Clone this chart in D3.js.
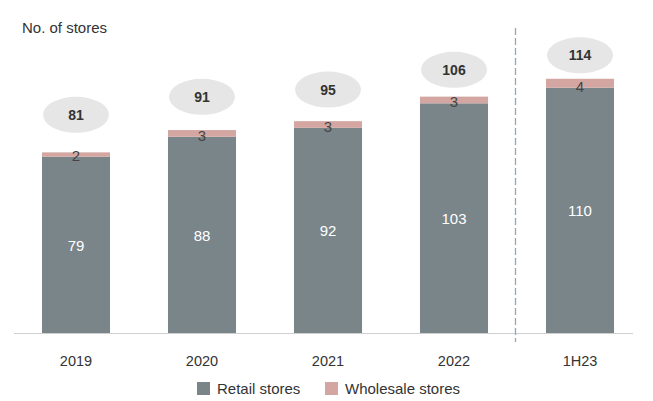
<!DOCTYPE html>
<html>
<head>
<meta charset="utf-8">
<script src="https://cdn.jsdelivr.net/npm/d3@7"></script>
<style>
  body { margin: 0; background: #fff; }
  text { font-family: "Liberation Sans", Arial, sans-serif; }
</style>
</head>
<body>
<div id="chart"></div>
<script>
// data
var periods = ["2019", "2020", "2021", "2022", "1H23"];
var retail = [79, 88, 92, 103, 110];
var wholesale = [2, 3, 3, 3, 4];
var totals = [81, 91, 95, 106, 114];

var width = 653, height = 401;
var baseY = 333;

var svg = d3.select("#chart").append("svg")
    .attr("width", width)
    .attr("height", height);

// x scale
var x = d3.scaleBand()
    .domain(periods)
    .range([13, 643])
    .paddingInner(0.46)
    .paddingOuter(0.23);

// y scale
var y = d3.scaleLinear()
    .domain([0, 120])
    .range([baseY, baseY - 120 * 2.23]);

// the total bubbles sit closer to the taller bars
var bubbleGap = d3.scaleLinear()
    .domain([80, 115])
    .range([38, 23]);

var rows = periods.map(function (p, i) {
    return { p: p, r: retail[i], w: wholesale[i], t: totals[i] };
});

// title
svg.append("text")
    .attr("x", 22)
    .attr("y", 33)
    .attr("font-size", 15)
    .attr("fill", "#333")
    .text("No. of stores");

// baseline
svg.append("line")
    .attr("x1", 14).attr("x2", 633)
    .attr("y1", baseY + 0.5).attr("y2", baseY + 0.5)
    .attr("stroke", "#d0d0d0");

// dashed separator
svg.append("line")
    .attr("x1", 515.5).attr("x2", 515.5)
    .attr("y1", 28).attr("y2", 342)
    .attr("stroke", "#8fa9b4")
    .attr("stroke-width", 1.3)
    .attr("stroke-dasharray", "7,3");

// retail bars
svg.selectAll(".retail")
    .data(rows)
    .enter()
    .append("rect")
    .attr("x", d => x(d.p))
    .attr("y", d => y(d.r))
    .attr("width", x.bandwidth())
    .attr("height", d => baseY - y(d.r))
    .attr("fill", "#7a8589");

// wholesale bars
svg.selectAll(".wholesale")
    .data(rows)
    .enter()
    .append("rect")
    .attr("x", d => x(d.p))
    .attr("y", d => y(d.r + d.w))
    .attr("width", x.bandwidth())
    .attr("height", d => y(d.r) - y(d.r + d.w))
    .attr("fill", "#d3a6a1");

// retail labels
svg.selectAll(".rlab")
    .data(rows)
    .enter()
    .append("text")
    .attr("x", d => x(d.p) + x.bandwidth() / 2)
    .attr("y", d => (y(d.r) + baseY) / 2 + 6)
    .attr("text-anchor", "middle")
    .attr("font-size", 15)
    .attr("fill", "#fff")
    .text(d => d.r);

// wholesale labels
svg.selectAll(".wlab")
    .data(rows)
    .enter()
    .append("text")
    .attr("x", d => x(d.p) + x.bandwidth() / 2)
    .attr("y", d => y(d.r) + 4)
    .attr("text-anchor", "middle")
    .attr("font-size", 15)
    .attr("fill", "#444")
    .text(d => d.w);

// total ellipses
svg.selectAll(".bubble")
    .data(rows)
    .enter()
    .append("ellipse")
    .attr("cx", d => x(d.p) + x.bandwidth() / 2)
    .attr("cy", d => y(d.t) - bubbleGap(d.t))
    .attr("rx", 33)
    .attr("ry", 18)
    .attr("fill", "#e6e6e6");

svg.selectAll(".tlab")
    .data(rows)
    .enter()
    .append("text")
    .attr("x", d => x(d.p) + x.bandwidth() / 2)
    .attr("y", d => y(d.t) - bubbleGap(d.t) + 5)
    .attr("text-anchor", "middle")
    .attr("font-size", 14)
    .attr("font-weight", "bold")
    .attr("fill", "#333")
    .text(d => d.t);

// x axis labels
svg.selectAll(".xlab")
    .data(periods)
    .enter()
    .append("text")
    .attr("x", d => x(d) + x.bandwidth() / 2)
    .attr("y", 366)
    .attr("text-anchor", "middle")
    .attr("font-size", 14.5)
    .attr("fill", "#333")
    .text(d => d);

// legend
var legend = [["Retail stores", "#7a8589", 197], ["Wholesale stores", "#d3a6a1", 325]];
legend.forEach(function (l) {
    svg.append("rect")
        .attr("x", l[2]).attr("y", 382)
        .attr("width", 13).attr("height", 13)
        .attr("fill", l[1]);
    svg.append("text")
        .attr("x", l[2] + 20).attr("y", 394)
        .attr("font-size", 15)
        .attr("fill", "#333")
        .text(l[0]);
});
</script>
</body>
</html>
